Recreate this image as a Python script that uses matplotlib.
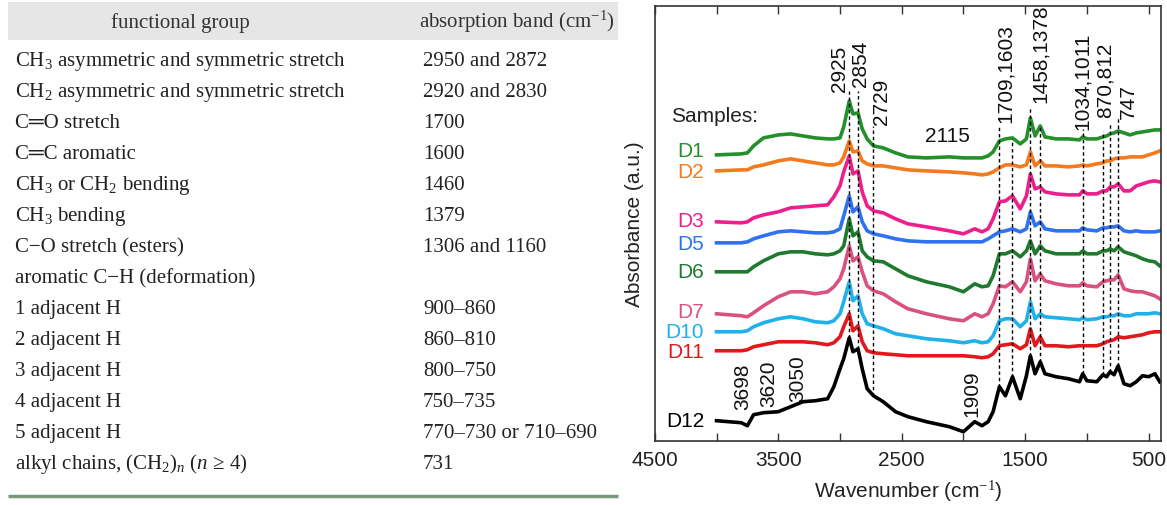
import matplotlib
matplotlib.use('Agg')
import matplotlib.pyplot as plt
from matplotlib.patches import Rectangle
from matplotlib.ticker import MultipleLocator

plt.rcParams['mathtext.fontset'] = 'custom'
plt.rcParams['mathtext.rm'] = 'Liberation Serif'
plt.rcParams['mathtext.it'] = 'Liberation Serif:italic'
plt.rcParams['mathtext.bf'] = 'Liberation Serif:bold'

# ── Tableau des bandes ─────────────────────────
groups = [
    'CH$_3$ asymmetric and symmetric stretch',
    'CH$_2$ asymmetric and symmetric stretch',
    'C═O stretch',
    'C═C aromatic',
    'CH$_3$ or CH$_2$ bending',
    'CH$_3$ bending',
    'C−O stretch (esters)',
    'aromatic C−H (deformation)',
    '1 adjacent H',
    '2 adjacent H',
    '3 adjacent H',
    '4 adjacent H',
    '5 adjacent H',
    'alkyl chains, (CH$_2$)$_n$ ($n$ ≥ 4)',
]
bands = ['2950 and 2872', '2920 and 2830', '1700', '1600', '1460', '1379',
         '1306 and 1160', '', '900–860', '860–810', '800–750', '750–735',
         '770–730 or 710–690', '731']

# ── Spectres (unités arbitraires) ──
wavenumber = [4000, 3800, 3750, 3700, 3620, 3500, 3400, 3300, 3200, 3100,
              3050, 3000, 2970, 2925, 2895, 2854, 2820, 2780, 2729, 2650,
              2550, 2450, 2300, 2115, 2000, 1909, 1850, 1800, 1760, 1709,
              1660, 1603, 1540, 1490, 1458, 1420, 1378, 1340, 1250, 1150,
              1060, 1034, 1000, 920, 870, 840, 812, 780, 747, 700,
              650, 600, 550, 500, 450, 410]

d1 = [296, 297, 298, 305, 313, 316, 317, 315, 313, 312,
      312, 313, 324, 350, 337, 338, 322, 312, 305, 303,
      298, 294, 293, 294, 293, 293, 293, 295, 299, 310,
      312, 313, 307, 312, 333, 315, 325, 314, 312, 312,
      311, 314, 312, 312, 314, 315, 317, 318, 320, 318,
      316, 318, 319, 320, 321, 321]
d2 = [280, 281, 281, 284, 286, 290, 292, 290, 288, 286,
      286, 288, 294, 310, 299, 300, 290, 287, 285, 285,
      283, 281, 280, 279, 278, 277, 276, 277, 279, 283,
      286, 286, 284, 286, 299, 285, 290, 285, 285, 284,
      285, 286, 285, 287, 288, 290, 290, 292, 293, 293,
      294, 294, 294, 296, 298, 300]
d3 = [229, 228, 229, 233, 236, 239, 243, 244, 245, 246,
      254, 265, 279, 295, 277, 280, 259, 245, 240, 238,
      232, 227, 224, 220, 217, 222, 219, 222, 232, 249,
      250, 255, 242, 255, 277, 262, 264, 259, 257, 256,
      256, 260, 257, 257, 260, 260, 264, 264, 267, 260,
      260, 265, 267, 269, 270, 269]
d5 = [208, 208, 209, 212, 215, 219, 220, 219, 218, 218,
      219, 222, 235, 255, 239, 244, 229, 220, 217, 215,
      212, 210, 209, 209, 209, 209, 209, 212, 215, 219,
      220, 222, 219, 222, 239, 225, 229, 222, 220, 220,
      220, 223, 221, 220, 223, 223, 224, 224, 225, 220,
      219, 220, 219, 219, 219, 220]
d6 = [179, 179, 179, 184, 190, 197, 199, 199, 197, 196,
      197, 200, 205, 232, 215, 219, 200, 194, 190, 189,
      182, 175, 169, 164, 159, 167, 164, 165, 175, 197,
      197, 200, 194, 200, 210, 197, 205, 200, 197, 197,
      197, 200, 197, 197, 200, 200, 202, 200, 204, 199,
      197, 195, 192, 190, 189, 185]
d7 = [137, 135, 134, 138, 145, 154, 159, 159, 157, 159,
      164, 172, 182, 205, 190, 194, 179, 165, 160, 157,
      149, 142, 137, 132, 130, 137, 134, 137, 147, 165,
      164, 169, 159, 169, 192, 170, 177, 170, 167, 165,
      165, 168, 165, 164, 169, 170, 171, 171, 176, 162,
      160, 159, 159, 157, 155, 152]
d10 = [119, 119, 120, 124, 128, 132, 134, 132, 129, 128,
       130, 137, 149, 169, 150, 155, 137, 127, 125, 122,
       117, 115, 112, 110, 108, 110, 108, 109, 115, 130,
       132, 132, 124, 130, 149, 132, 137, 134, 133, 132,
       131, 133, 131, 132, 134, 134, 135, 135, 137, 135,
       135, 137, 137, 137, 138, 137]
d11 = [100, 100, 101, 104, 106, 109, 109, 109, 108, 106,
       108, 114, 124, 137, 120, 125, 109, 100, 98, 97,
       96, 95, 95, 95, 95, 94, 93, 94, 97, 105,
       106, 107, 102, 106, 122, 105, 114, 105, 105, 104,
       105, 105, 105, 105, 107, 109, 110, 111, 114, 113,
       114, 115, 116, 118, 119, 119]
d12 = [30, 28, 25, 36, 38, 39, 44, 49, 50, 52,
       64, 82, 92, 113, 99, 102, 82, 62, 55, 49,
       39, 34, 29, 24, 19, 29, 25, 29, 39, 64,
       55, 74, 52, 75, 95, 77, 89, 77, 74, 72,
       69, 77, 70, 69, 76, 74, 79, 76, 85, 67,
       65, 69, 75, 74, 77, 69]

sample_names = ['D1', 'D2', 'D3', 'D5', 'D6', 'D7', 'D10', 'D11', 'D12']
sample_label_y = [300, 279, 230, 207, 179, 139, 119, 99, 30]
sample_colors = ['#23902a', '#f47a1f', '#ec1f8c', '#2e72f2', '#1f7a30',
                 '#d9527e', '#1fb1ea', '#e2181c', '#000000']
sample_data = [d1, d2, d3, d5, d6, d7, d10, d11, d12]

# raies marquées : position, haut, bas
mark_wn = [2925, 2854, 2729, 1709, 1603, 1458, 1378, 1034, 870, 812, 747]
mark_top = [360, 360, 325, 325, 312, 342, 325, 322, 320, 327, 334]
mark_bot = [113, 102, 55, 64, 74, 95, 89, 77, 76, 79, 85]

# étiquettes verticales : texte, position, bas du texte
peak_text = ['2925', '2854', '2729', '1709,1603', '1458,1378', '1034,1011',
             '870,812', '747', '3698', '3620', '3050', '1909']
peak_wn = [3008, 2830, 2660, 1663, 1380, 1040, 853, 667, 3788, 3575, 3344, 1930]
peak_y = [360, 365, 327, 329, 349, 322, 334, 333, 42, 45, 50, 35]


def main():
    fig = plt.figure(figsize=(11.67, 5.06), dpi=100)

    # ── Tableau ───────────────────────────────
    serif = ['Liberation Serif', 'DejaVu Serif', 'DejaVu Sans']
    tab = fig.add_axes([0, 0, 620 / 1167, 1])
    tab.set_xlim(0, 620)
    tab.set_ylim(506, 0)
    tab.axis('off')
    tab.add_patch(Rectangle((8, 3), 610, 38, color='#e6e6e6', lw=0))
    tab.text(180, 28, 'functional group', ha='center', va='baseline',
             family=serif, fontsize=15, color='#333333')
    tab.text(517, 28, 'absorption band (cm$^{-1}$)', ha='center',
             va='baseline', family=serif, fontsize=15, color='#333333')
    for i, (g, b) in enumerate(zip(groups, bands)):
        y = 66 + 31 * i
        tab.text(15, y, g, va='baseline', family=serif, fontsize=15,
                 color='#222222')
        tab.text(423, y, b, va='baseline', family=serif, fontsize=15,
                 color='#222222')
    tab.plot([8, 618], [497, 497], color='#7b9a7b', lw=2.5,
             solid_capstyle='butt')

    # ── Spectres ──────────────────────────────
    sans = ['Liberation Sans', 'DejaVu Sans']
    ax = fig.add_axes([654.8 / 1167, 1 - 441.7 / 506,
                       (1161 - 654.8) / 1167, (441.7 - 7) / 506])
    for name, ly, col, vals in zip(sample_names, sample_label_y,
                                   sample_colors, sample_data):
        ax.plot(wavenumber, vals, color=col, lw=2.6, zorder=2)
        ax.text(4100, ly, name, color=col, ha='right', va='center',
                family=sans, fontsize=15)

    for w, top, bot in zip(mark_wn, mark_top, mark_bot):
        ax.plot([w, w], [bot, top], color='black', lw=1.0,
                ls=(0, (2.5, 2)), zorder=3)

    for t, w, y in zip(peak_text, peak_wn, peak_y):
        ax.text(w, y, t, rotation=90, ha='center', va='bottom',
                family=sans, fontsize=15, color='#111111')
    ax.text(2133, 315, '2115', ha='center', va='center', family=sans,
            fontsize=15, color='#111111')
    ax.text(4372, 335, 'Samples:', ha='left', va='center', family=sans,
            fontsize=15, color='#222222')

    ax.set_xlim(4500, 400)
    ax.set_ylim(10, 445)
    ax.xaxis.set_minor_locator(MultipleLocator(500))
    ax.set_xticks([4500, 3500, 2500, 1500, 500])
    ax.set_yticks([])
    ax.tick_params(axis='x', which='both', direction='in', top=True,
                   length=6, width=1.0, color='#333333', pad=7)
    for lab in ax.get_xticklabels():
        lab.set_family(sans)
        lab.set_fontsize(15)
        lab.set_color('#222222')
    for sp in ax.spines.values():
        sp.set_linewidth(1.2)
        sp.set_color('#333333')

    ax.set_xlabel('Wavenumber (cm$^{-1}$)', family=sans, fontsize=15,
                  color='#222222', labelpad=6)
    ax.set_ylabel('Absorbance (a.u.)', family=sans, fontsize=15,
                  color='#222222', labelpad=8)

    fig.savefig('out.png', dpi=100)


if __name__ == '__main__':
    main()
